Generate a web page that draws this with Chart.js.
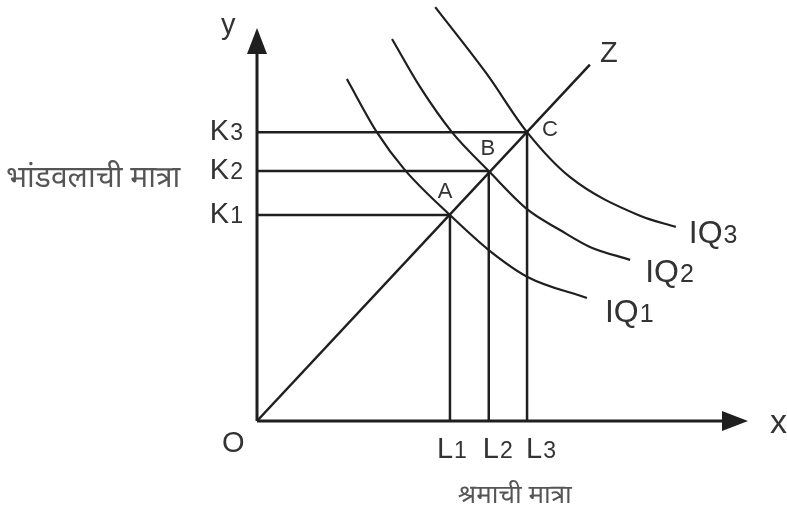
<!DOCTYPE html>
<html>
<head>
<meta charset="utf-8">
<script src="https://cdn.jsdelivr.net/npm/chart.js@4.4.0/dist/chart.umd.min.js"></script>
<style>
  html, body { margin: 0; padding: 0; background: #fff; }
  #wrap { width: 787px; height: 515px; }
</style>
</head>
<body>
<div id="wrap"><canvas id="chart" width="787" height="515"></canvas></div>
<script>
// values (labour on x, capital on y)
const labourLevels = [3.93, 4.72, 5.50];
const capitalLevels = [5.24, 6.36, 7.35];
const labourTicks = ['L1', 'L2', 'L3'];
const capitalTicks = ['K1', 'K2', 'K3'];
const pointNames = ['A', 'B', 'C'];
const curveNames = ['IQ1', 'IQ2', 'IQ3'];

const iq1X = [1.83, 2.44, 3.01, 3.93, 4.72, 5.52, 6.72];
const iq1Y = [8.70, 7.35, 6.39, 5.24, 4.35, 3.66, 3.13];
const iq2X = [2.75, 3.32, 3.97, 4.72, 5.52, 6.17, 6.78, 7.60];
const iq2Y = [9.72, 8.50, 7.35, 6.36, 5.37, 4.86, 4.43, 4.10];
const iq3X = [3.63, 4.68, 5.50, 6.37, 7.80, 8.53];
const iq3Y = [10.53, 8.83, 7.35, 6.21, 5.22, 4.94];

const rayEnd = [6.78, 9.07];   // expansion path OZ
const axisEnd = [10, 10];      // arrow tips of x and y axes

const xTitle = 'श्रमाची मात्रा';
const yTitle = 'भांडवलाची मात्रा';

const INK = '#1f1f1f';
const TEXT = '#333';
const LATIN = '"Liberation Sans", Arial, sans-serif';
const DEVA = '"Noto Sans Devanagari", "Lohit Devanagari", "Noto Serif Devanagari", "Noto Sans", sans-serif';

const pairs = (xs, ys) => xs.map((v, i) => ({ x: v, y: ys[i] }));

const line = (data, width, extra) => Object.assign({
    data,
    showLine: true,
    borderColor: INK,
    borderWidth: width,
    pointRadius: 0,
    fill: false,
}, extra || {});

const datasets = [];
// axes
datasets.push(line([{ x: 0, y: 0 }, { x: axisEnd[0] - 0.2, y: 0 }], 3));
datasets.push(line([{ x: 0, y: 0 }, { x: 0, y: axisEnd[1] - 0.2 }], 3));
// guide lines to K and L
labourLevels.forEach((l, i) => {
    datasets.push(line([{ x: 0, y: capitalLevels[i] }, { x: l, y: capitalLevels[i] }], 2.5));
    datasets.push(line([{ x: l, y: 0 }, { x: l, y: capitalLevels[i] }], 2.5));
});
// expansion path
datasets.push(line([{ x: 0, y: 0 }, { x: rayEnd[0], y: rayEnd[1] }], 2.5));
// isoquants
[[iq1X, iq1Y], [iq2X, iq2Y], [iq3X, iq3Y]].forEach(([xs, ys]) => {
    datasets.push(line(pairs(xs, ys), 2.2, { cubicInterpolationMode: 'monotone' }));
});

function subLabel(ctx, text, x, y, size, align) {
    const main = text.slice(0, -1), sub = text.slice(-1);
    const small = Math.round(size * 0.78);
    ctx.font = `${size}px ${LATIN}`;
    const w1 = ctx.measureText(main).width;
    ctx.font = `${small}px ${LATIN}`;
    const w2 = ctx.measureText(sub).width;
    const gap = 1;
    let left = x;
    if (align === 'right') left = x - w1 - gap - w2;
    if (align === 'center') left = x - (w1 + gap + w2) / 2;
    ctx.textAlign = 'left';
    ctx.textBaseline = 'alphabetic';
    ctx.font = `${size}px ${LATIN}`;
    ctx.fillText(main, left, y);
    ctx.font = `${small}px ${LATIN}`;
    ctx.fillText(sub, left + w1 + gap, y);
}

function arrowHead(ctx, tipX, tipY, dir) {
    const len = 26, half = 10;
    ctx.beginPath();
    if (dir === 'up') {
        ctx.moveTo(tipX, tipY);
        ctx.lineTo(tipX - half, tipY + len);
        ctx.lineTo(tipX + half, tipY + len);
    } else {
        ctx.moveTo(tipX, tipY);
        ctx.lineTo(tipX - len, tipY - half);
        ctx.lineTo(tipX - len, tipY + half);
    }
    ctx.closePath();
    ctx.fill();
}

const diagramText = {
    id: 'diagramText',
    afterDatasetsDraw(chart) {
        const { ctx, scales: { x, y } } = chart;
        const px = v => x.getPixelForValue(v);
        const py = v => y.getPixelForValue(v);
        const ox = px(0), oy = py(0);
        ctx.save();
        ctx.fillStyle = INK;
        arrowHead(ctx, ox, py(axisEnd[1]), 'up');
        arrowHead(ctx, px(axisEnd[0]), oy, 'right');

        ctx.fillStyle = TEXT;
        ctx.textAlign = 'left';
        ctx.textBaseline = 'alphabetic';
        ctx.font = `29px ${LATIN}`;
        ctx.fillText('y', ox - 36, py(axisEnd[1]) + 6);
        ctx.fillText('O', ox - 35, oy + 31);
        ctx.fillText('Z', px(rayEnd[0]) + 10, py(rayEnd[1]) - 3);
        ctx.font = `34px ${LATIN}`;
        ctx.fillText('x', px(axisEnd[0]) + 22, oy + 12);

        capitalTicks.forEach((t, i) => subLabel(ctx, t, ox - 14, py(capitalLevels[i]) + 8, 29, 'right'));
        const lShift = [-13, -6, -1];
        labourTicks.forEach((t, i) => subLabel(ctx, t, px(labourLevels[i]) + lShift[i], oy + 37, 29, 'left'));

        const ends = [[iq1X, iq1Y], [iq2X, iq2Y], [iq3X, iq3Y]];
        const iqShift = [[18, 24], [15, 22], [13, 16]];
        curveNames.forEach((t, i) => {
            const [xs, ys] = ends[i];
            const n = xs.length - 1;
            subLabel(ctx, t, px(xs[n]) + iqShift[i][0], py(ys[n]) + iqShift[i][1], 32, 'left');
        });

        ctx.font = `22px ${LATIN}`;
        ctx.textAlign = 'center';
        ctx.textBaseline = 'middle';
        const ptShift = [[-5, -23], [-1, -22], [23, -2]];
        pointNames.forEach((t, i) => {
            ctx.fillText(t, px(labourLevels[i]) + ptShift[i][0], py(capitalLevels[i]) + ptShift[i][1]);
        });

        ctx.fillStyle = '#555';
        ctx.font = `30px ${DEVA}`;
        ctx.textAlign = 'left';
        ctx.fillText(yTitle, 6, py(capitalLevels[1]) + 10);
        ctx.font = `26px ${DEVA}`;
        ctx.textAlign = 'center';
        ctx.fillText(xTitle, px(labourLevels[1]) + 26, oy + 77);
        ctx.restore();
    }
};

new Chart(document.getElementById('chart'), {
    type: 'scatter',
    data: { datasets },
    options: {
        responsive: false,
        animation: false,
        layout: { padding: 0 },
        scales: {
            x: { type: 'linear', display: false, min: -5.234, max: 10.794 },
            y: { type: 'linear', display: false, min: -2.392, max: 10.712 },
        },
        plugins: {
            legend: { display: false },
            tooltip: { enabled: false },
        },
    },
    plugins: [diagramText],
});
</script>
</body>
</html>
